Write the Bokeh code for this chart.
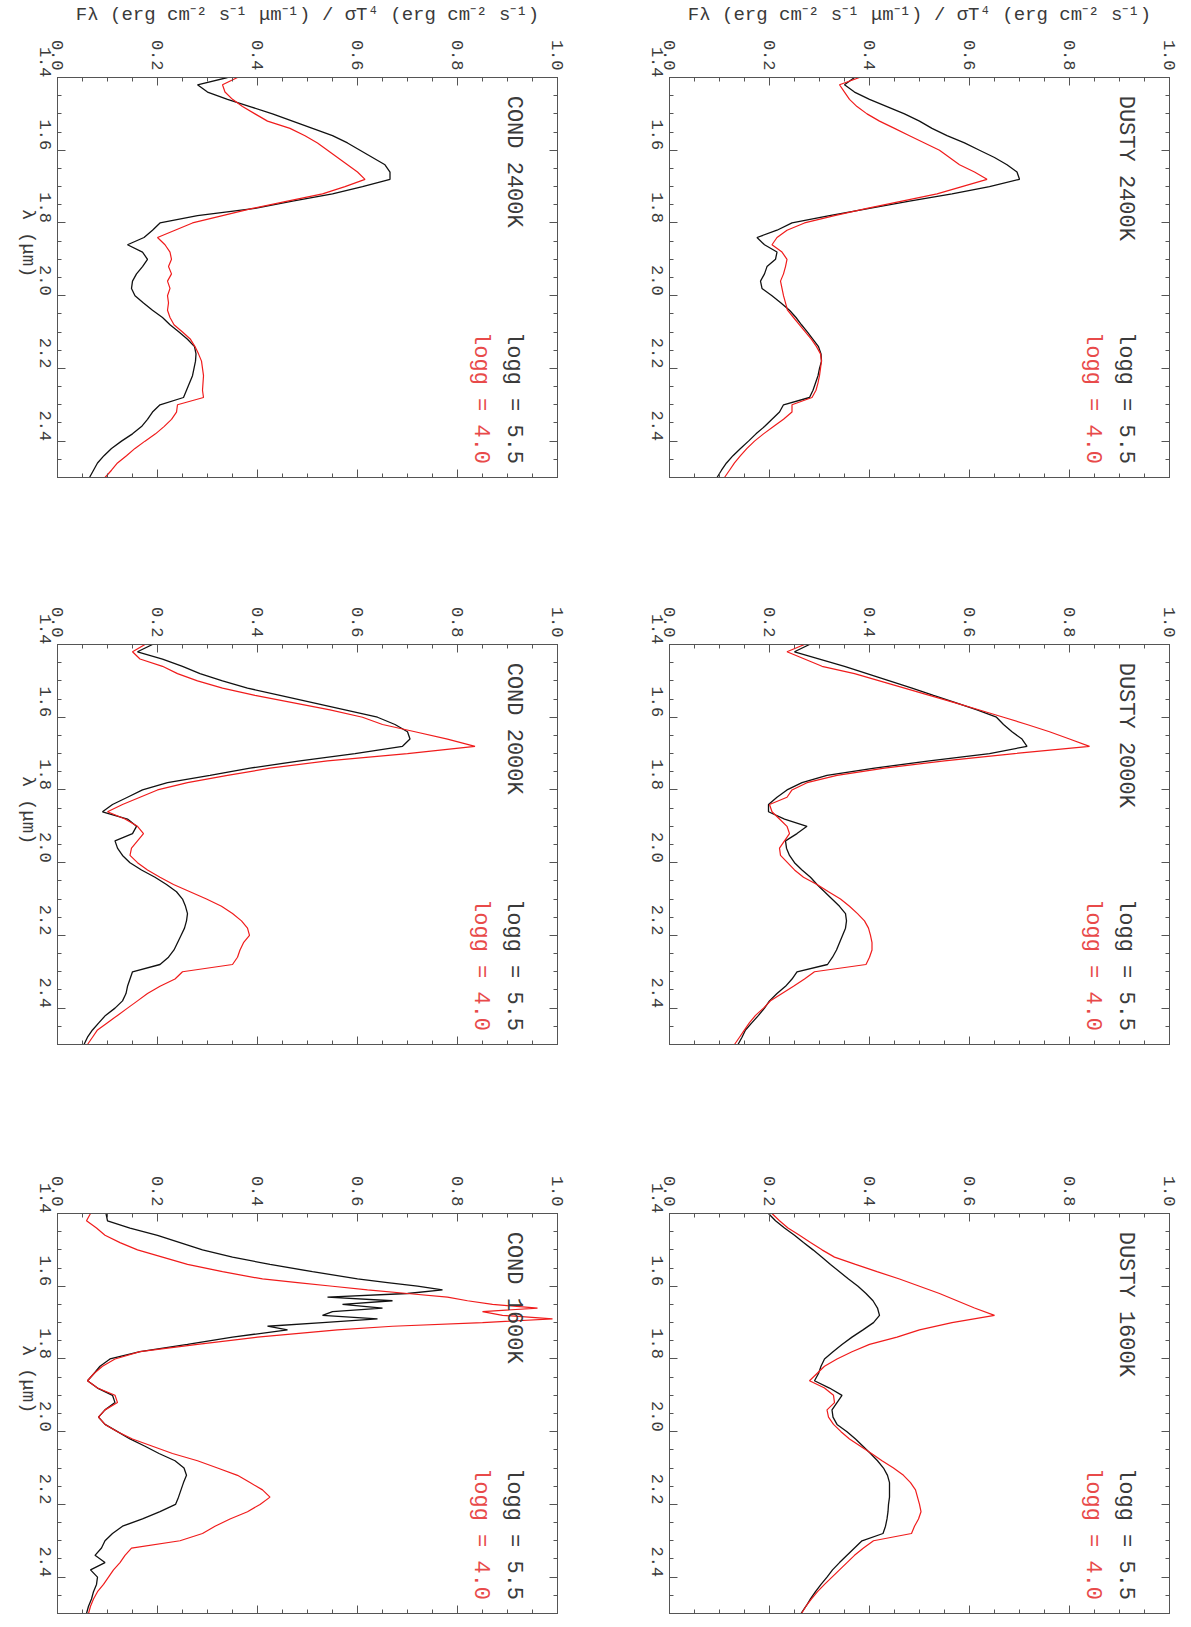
import math
from bokeh.plotting import figure
from bokeh.models import (Range1d, FixedTicker, LinearAxis, PrintfTickFormatter, Label,
                          CustomLabelingPolicy)
from bokeh.layouts import column, row
from bokeh.embed import file_html
from bokeh.resources import INLINE

# ---------------- data ----------------
WAVE = [1.40, 1.42, 1.44, 1.46, 1.48, 1.50, 1.52, 1.54, 1.56, 1.58,
        1.60, 1.62, 1.64, 1.66, 1.68, 1.70, 1.72, 1.74, 1.76, 1.78,
        1.80, 1.82, 1.84, 1.86, 1.88, 1.90, 1.92, 1.94, 1.96, 1.98,
        2.00, 2.02, 2.04, 2.06, 2.08, 2.10, 2.12, 2.14, 2.16, 2.18,
        2.20, 2.22, 2.24, 2.26, 2.28, 2.30, 2.32, 2.34, 2.36, 2.38,
        2.40, 2.42, 2.44, 2.46, 2.48, 2.50]

WAVE_COND_1600 = [1.40, 1.42, 1.44, 1.46, 1.48, 1.50, 1.52, 1.54, 1.56,
                  1.58, 1.59, 1.60, 1.61, 1.62, 1.63, 1.64, 1.65, 1.66, 1.67,
                  1.68, 1.69, 1.70, 1.71, 1.72,
                  1.74, 1.76, 1.78, 1.80, 1.82, 1.84, 1.86, 1.88, 1.90, 1.92,
                  1.94, 1.96, 1.98, 2.00, 2.02, 2.04, 2.06, 2.08, 2.10, 2.12,
                  2.14, 2.16, 2.18, 2.20, 2.22, 2.24, 2.26, 2.28, 2.30, 2.32,
                  2.34, 2.36, 2.38, 2.40, 2.42, 2.44, 2.46, 2.48, 2.50]

DUSTY_2400_LOGG55 = [0.37, 0.35, 0.37, 0.40, 0.435, 0.47, 0.50, 0.525, 0.555, 0.59,
                     0.62, 0.65, 0.675, 0.695, 0.70, 0.64, 0.565, 0.48, 0.40, 0.32,
                     0.245, 0.215, 0.175, 0.19, 0.215, 0.212, 0.195, 0.19, 0.182, 0.185,
                     0.205, 0.223, 0.24, 0.253, 0.264, 0.276, 0.287, 0.298, 0.303, 0.304,
                     0.30, 0.297, 0.292, 0.287, 0.28, 0.228, 0.22, 0.205, 0.19, 0.173,
                     0.158, 0.142, 0.127, 0.114, 0.104, 0.095]
DUSTY_2400_LOGG40 = [0.38, 0.34, 0.35, 0.36, 0.375, 0.395, 0.42, 0.45, 0.48, 0.51,
                     0.54, 0.56, 0.58, 0.61, 0.635, 0.585, 0.535, 0.465, 0.395, 0.33,
                     0.27, 0.235, 0.215, 0.205, 0.225, 0.235, 0.232, 0.228, 0.222, 0.225,
                     0.228, 0.232, 0.236, 0.248, 0.26, 0.272, 0.284, 0.294, 0.302, 0.304,
                     0.302, 0.30, 0.297, 0.293, 0.285, 0.245, 0.245, 0.228, 0.208, 0.188,
                     0.17, 0.155, 0.142, 0.13, 0.12, 0.11]

COND_2400_LOGG55 = [0.34, 0.28, 0.30, 0.34, 0.385, 0.43, 0.47, 0.51, 0.55, 0.58,
                    0.605, 0.63, 0.655, 0.665, 0.665, 0.61, 0.55, 0.47, 0.395, 0.28,
                    0.205, 0.19, 0.173, 0.14, 0.17, 0.18, 0.17, 0.158, 0.15, 0.148,
                    0.155, 0.172, 0.19, 0.21, 0.225, 0.243, 0.26, 0.274, 0.277, 0.276,
                    0.273, 0.27, 0.264, 0.258, 0.252, 0.205, 0.19, 0.18, 0.168, 0.15,
                    0.128, 0.108, 0.093, 0.08, 0.072, 0.064]
COND_2400_LOGG40 = [0.36, 0.33, 0.335, 0.35, 0.37, 0.395, 0.42, 0.465, 0.495, 0.52,
                    0.54, 0.56, 0.58, 0.60, 0.615, 0.575, 0.53, 0.46, 0.39, 0.33,
                    0.27, 0.235, 0.20, 0.215, 0.225, 0.228, 0.222, 0.228, 0.22, 0.225,
                    0.22, 0.222, 0.22, 0.225, 0.233, 0.25, 0.266, 0.275, 0.282, 0.288,
                    0.29, 0.292, 0.291, 0.29, 0.292, 0.24, 0.238, 0.228, 0.213, 0.196,
                    0.175, 0.155, 0.138, 0.12, 0.108, 0.095]

DUSTY_2000_LOGG55 = [0.28, 0.25, 0.30, 0.35, 0.395, 0.44, 0.485, 0.528, 0.572, 0.615,
                     0.654, 0.668, 0.685, 0.705, 0.715, 0.64, 0.52, 0.41, 0.315, 0.265,
                     0.235, 0.215, 0.198, 0.198, 0.23, 0.275, 0.255, 0.232, 0.234, 0.24,
                     0.25, 0.265, 0.282, 0.295, 0.31, 0.325, 0.34, 0.352, 0.354, 0.352,
                     0.346, 0.34, 0.334, 0.326, 0.316, 0.255, 0.245, 0.232, 0.215, 0.20,
                     0.19, 0.178, 0.165, 0.152, 0.145, 0.137]
DUSTY_2000_LOGG40 = [0.27, 0.235, 0.27, 0.305, 0.37, 0.42, 0.47, 0.52, 0.57, 0.62,
                     0.668, 0.715, 0.76, 0.80, 0.84, 0.69, 0.55, 0.43, 0.335, 0.275,
                     0.245, 0.235, 0.20, 0.205, 0.22, 0.235, 0.24, 0.23, 0.22, 0.222,
                     0.236, 0.25, 0.268, 0.295, 0.318, 0.342, 0.36, 0.376, 0.39, 0.398,
                     0.402, 0.405, 0.405, 0.40, 0.393, 0.29, 0.27, 0.248, 0.225, 0.202,
                     0.188, 0.172, 0.16, 0.15, 0.14, 0.13]

COND_2000_LOGG55 = [0.19, 0.16, 0.21, 0.25, 0.285, 0.33, 0.38, 0.445, 0.51, 0.575,
                    0.64, 0.675, 0.70, 0.705, 0.69, 0.595, 0.485, 0.385, 0.305, 0.22,
                    0.17, 0.14, 0.11, 0.09, 0.14, 0.158, 0.15, 0.115, 0.12, 0.13,
                    0.145, 0.168, 0.195, 0.218, 0.238, 0.25, 0.256, 0.26, 0.258, 0.254,
                    0.247, 0.24, 0.233, 0.222, 0.205, 0.15, 0.145, 0.14, 0.137, 0.13,
                    0.115, 0.096, 0.083, 0.07, 0.06, 0.053]
COND_2000_LOGG40 = [0.175, 0.15, 0.165, 0.21, 0.24, 0.28, 0.33, 0.395, 0.47, 0.545,
                    0.61, 0.65, 0.715, 0.78, 0.835, 0.70, 0.54, 0.425, 0.34, 0.26,
                    0.20, 0.165, 0.13, 0.10, 0.135, 0.16, 0.172, 0.16, 0.148, 0.145,
                    0.16, 0.18, 0.205, 0.232, 0.265, 0.298, 0.328, 0.35, 0.368, 0.38,
                    0.384, 0.372, 0.365, 0.36, 0.35, 0.25, 0.235, 0.205, 0.18, 0.16,
                    0.14, 0.12, 0.10, 0.08, 0.07, 0.06]

DUSTY_1600_LOGG55 = [0.198, 0.212, 0.23, 0.25, 0.268, 0.287, 0.305, 0.322, 0.34, 0.358,
                     0.377, 0.393, 0.407, 0.416, 0.42, 0.408, 0.387, 0.365, 0.345, 0.327,
                     0.31, 0.303, 0.298, 0.29, 0.32, 0.345, 0.335, 0.325, 0.327, 0.335,
                     0.355, 0.372, 0.387, 0.402, 0.416, 0.428, 0.436, 0.44, 0.44, 0.44,
                     0.438, 0.437, 0.435, 0.432, 0.427, 0.385, 0.37, 0.355, 0.34, 0.326,
                     0.315, 0.303, 0.292, 0.282, 0.273, 0.263]
DUSTY_1600_LOGG40 = [0.205, 0.22, 0.237, 0.26, 0.282, 0.305, 0.33, 0.372, 0.415, 0.46,
                     0.50, 0.54, 0.575, 0.61, 0.65, 0.565, 0.50, 0.455, 0.40, 0.365,
                     0.335, 0.31, 0.295, 0.28, 0.31, 0.328, 0.33, 0.315, 0.318, 0.328,
                     0.343, 0.36, 0.382, 0.404, 0.425, 0.448, 0.468, 0.482, 0.492, 0.496,
                     0.50, 0.503, 0.498, 0.49, 0.484, 0.408, 0.388, 0.37, 0.355, 0.34,
                     0.325, 0.31, 0.296, 0.284, 0.273, 0.264]

COND_1600_LOGG55 = [0.097, 0.10, 0.145, 0.20, 0.245, 0.29, 0.35, 0.425, 0.51,
                    0.60, 0.66, 0.72, 0.77, 0.70, 0.54, 0.67, 0.57, 0.65, 0.55,
                    0.53, 0.64, 0.53, 0.42, 0.46,
                    0.35, 0.26, 0.165, 0.105, 0.085, 0.073, 0.06, 0.08, 0.11, 0.115,
                    0.095, 0.082, 0.095, 0.12, 0.145, 0.175, 0.203, 0.235, 0.253, 0.258,
                    0.252, 0.247, 0.242, 0.236, 0.205, 0.17, 0.13, 0.11, 0.095, 0.088,
                    0.075, 0.095, 0.066, 0.08, 0.078, 0.072, 0.068, 0.062, 0.058]
COND_1600_LOGG40 = [0.066, 0.058, 0.078, 0.095, 0.125, 0.16, 0.21, 0.26, 0.33,
                    0.41, 0.48, 0.55, 0.62, 0.70, 0.78, 0.82, 0.87, 0.96, 0.85,
                    0.89, 0.99, 0.85, 0.67, 0.56,
                    0.40, 0.28, 0.165, 0.115, 0.09, 0.073, 0.06, 0.08, 0.115, 0.12,
                    0.095, 0.082, 0.095, 0.12, 0.15, 0.19, 0.23, 0.28, 0.32, 0.36,
                    0.385, 0.41, 0.425, 0.405, 0.38, 0.345, 0.315, 0.29, 0.245, 0.148,
                    0.135, 0.125, 0.112, 0.102, 0.092, 0.08, 0.072, 0.066, 0.062]

FLUX_TICKS = [0.0, 0.2, 0.4, 0.6, 0.8, 1.0]
WAVE_TICKS = [1.4, 1.6, 1.8, 2.0, 2.2, 2.4]
FLUX_LABEL = "F\u03bb (erg cm\u207b\u00b2 s\u207b\u00b9 \u03bcm\u207b\u00b9) / \u03c3T\u2074 (erg cm\u207b\u00b2 s\u207b\u00b9)"
WAVE_LABEL = "\u03bb (\u03bcm)"
LOGG_LABELS = ["logg = 5.5", "logg = 4.0"]

# ---------------- styling ----------------
FONT = "Liberation Mono"
AX = "#555555"
TXT = "#3a3a3a"
BLACK = "#111111"
RED = "#f01c1c"
RED_TXT = "#e84a4a"

flux_minor = [round(0.05 * i, 2) for i in range(21)]
wave_minor = [round(1.40 + 0.05 * i, 2) for i in range(23)]


def style_axis(ax, show_labels):
    ax.axis_line_color = AX
    ax.major_tick_line_color = AX
    ax.minor_tick_line_color = AX
    ax.major_tick_in = 8
    ax.major_tick_out = 0
    ax.minor_tick_in = 4
    ax.minor_tick_out = 0
    if show_labels:
        ax.major_label_text_font = FONT
        ax.major_label_text_font_size = "17px"
        ax.major_label_text_color = TXT
        ax.major_label_orientation = -math.pi / 2
        ax.formatter = PrintfTickFormatter(format="%.1f")
    else:
        # tick marks only: no labels are drawn on the mirrored axes
        ax.major_label_policy = CustomLabelingPolicy(code="return []")
        ax.major_label_text_font_size = "0px"
        ax.major_label_standoff = 0


def make_panel(model, temp, wave, f55, f40, top_title, left_title, borders):
    l, r, t, b = borders
    p = figure(frame_width=500, frame_height=400,
               x_range=Range1d(0.0, 1.0), y_range=Range1d(2.5, 1.4),
               x_axis_location="above", y_axis_location="left",
               toolbar_location=None, output_backend="svg",
               min_border_left=l, min_border_right=r,
               min_border_top=t, min_border_bottom=b,
               outline_line_color=AX, background_fill_color="white",
               border_fill_color="white")
    p.grid.visible = False
    xa = p.xaxis[0]
    ya = p.yaxis[0]
    xa.ticker = FixedTicker(ticks=FLUX_TICKS, minor_ticks=flux_minor)
    ya.ticker = FixedTicker(ticks=WAVE_TICKS, minor_ticks=wave_minor)
    style_axis(xa, True)
    style_axis(ya, True)
    xa.major_label_standoff = 7
    ya.major_label_standoff = 12
    if top_title:
        xa.axis_label = FLUX_LABEL
        xa.axis_label_text_font = FONT
        xa.axis_label_text_font_size = "19px"
        xa.axis_label_text_font_style = "normal"
        xa.axis_label_text_color = TXT
        xa.axis_label_standoff = 11
    if left_title:
        ya.axis_label = WAVE_LABEL
        ya.axis_label_text_font = FONT
        ya.axis_label_text_font_size = "19px"
        ya.axis_label_text_font_style = "normal"
        ya.axis_label_text_color = TXT
        ya.axis_label_standoff = 4
        try:
            ya.axis_label_orientation = -math.pi / 2
        except Exception:
            pass

    xb = LinearAxis(ticker=FixedTicker(ticks=FLUX_TICKS, minor_ticks=flux_minor))
    style_axis(xb, False)
    p.add_layout(xb, "below")
    yr = LinearAxis(ticker=FixedTicker(ticks=WAVE_TICKS, minor_ticks=wave_minor))
    style_axis(yr, False)
    p.add_layout(yr, "right")

    p.line(f55, wave, line_color=BLACK, line_width=1.3)
    p.line(f40, wave, line_color=RED, line_width=1.2)

    p.add_layout(Label(x=0.912, y=1.45, text=f"{model} {temp}K", angle=-math.pi / 2,
                       text_font=FONT, text_font_size="22px", text_color=TXT,
                       text_align="left", text_baseline="middle"))
    p.add_layout(Label(x=0.912, y=2.10, text=LOGG_LABELS[0], angle=-math.pi / 2,
                       text_font=FONT, text_font_size="22px", text_color=TXT,
                       text_align="left", text_baseline="middle"))
    p.add_layout(Label(x=0.845, y=2.10, text=LOGG_LABELS[1], angle=-math.pi / 2,
                       text_font=FONT, text_font_size="22px", text_color=RED_TXT,
                       text_align="left", text_baseline="middle"))
    return p


c24 = make_panel("COND", 2400, WAVE, COND_2400_LOGG55, COND_2400_LOGG40, True, True, (57, 62, 73, 17))
d24 = make_panel("DUSTY", 2400, WAVE, DUSTY_2400_LOGG55, DUSTY_2400_LOGG40, True, False, (50, 12, 73, 17))
c20 = make_panel("COND", 2000, WAVE, COND_2000_LOGG55, COND_2000_LOGG40, False, True, (57, 62, 150, 19))
d20 = make_panel("DUSTY", 2000, WAVE, DUSTY_2000_LOGG55, DUSTY_2000_LOGG40, False, False, (50, 12, 150, 19))
c16 = make_panel("COND", 1600, WAVE_COND_1600, COND_1600_LOGG55, COND_1600_LOGG40, False, True, (57, 62, 150, 2))
d16 = make_panel("DUSTY", 1600, WAVE, DUSTY_1600_LOGG55, DUSTY_1600_LOGG40, False, False, (50, 12, 150, 2))

layout = column(row(c24, d24), row(c20, d20), row(c16, d16))

open("out.html", "w").write(file_html(layout, INLINE))
